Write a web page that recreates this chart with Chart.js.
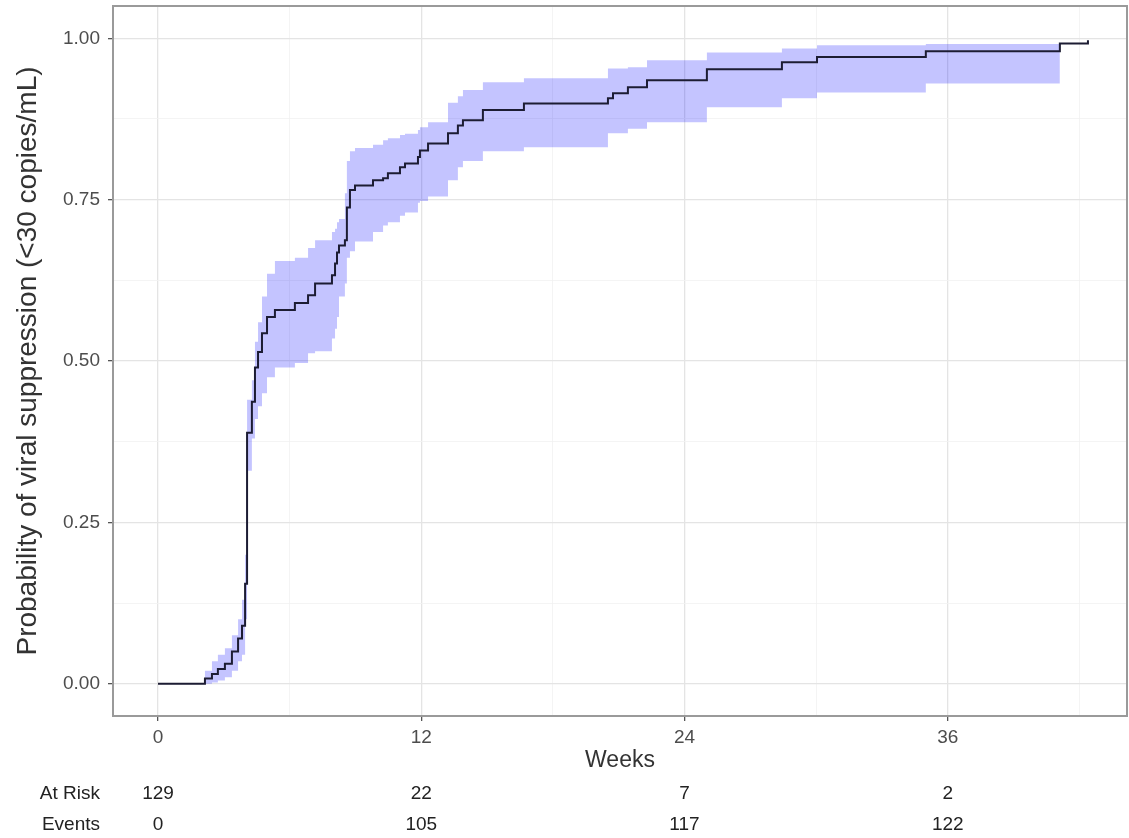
<!DOCTYPE html>
<html>
<head>
<meta charset="utf-8">
<script src="https://cdn.jsdelivr.net/npm/chart.js@4.4.0/dist/chart.umd.min.js"></script>
<style>
  html, body { margin: 0; padding: 0; background: #fff; }
  canvas { display: block; }
</style>
</head>
<body>
<canvas id="kmChart" width="1129" height="838"></canvas>
<script>
// Kaplan-Meier estimate of time to suppression, with 95% band
const weeks = [0, 2.14, 2.46, 2.73, 3.05, 3.37, 3.65, 3.83, 3.97, 4.06,
  4.28, 4.42, 4.56, 4.74, 4.97, 5.33, 6.24, 6.84, 7.16, 7.93,
  8.07, 8.16, 8.25, 8.52, 8.61, 8.75, 8.98, 9.80, 10.26, 10.48,
  11.03, 11.26, 11.85, 11.94, 12.31, 13.22, 13.67, 13.90, 14.81, 16.68,
  20.51, 20.74, 21.42, 22.29, 25.02, 28.44, 30.04, 35.00, 41.11, 42.39];
const estimate = [0, 0.008, 0.015, 0.023, 0.031, 0.05, 0.07, 0.09, 0.155, 0.389,
  0.437, 0.49, 0.514, 0.543, 0.568, 0.579, 0.59, 0.602, 0.62, 0.633,
  0.651, 0.668, 0.679, 0.687, 0.738, 0.765, 0.772, 0.78, 0.783, 0.791,
  0.8, 0.806, 0.816, 0.826, 0.837, 0.853, 0.865, 0.873, 0.889, 0.899,
  0.907, 0.915, 0.924, 0.935, 0.952, 0.963, 0.971, 0.98, 0.992, 0.997];
const lowerCI = [0, 0, 0.002, 0.005, 0.01, 0.02, 0.035, 0.045, 0.1, 0.33,
  0.38, 0.41, 0.43, 0.45, 0.475, 0.49, 0.497, 0.512, 0.515, 0.535,
  0.55, 0.568, 0.6, 0.62, 0.66, 0.67, 0.685, 0.7, 0.71, 0.715,
  0.725, 0.73, 0.745, 0.748, 0.755, 0.78, 0.8, 0.81, 0.825, 0.831,
  0.853, 0.853, 0.86, 0.87, 0.893, 0.907, 0.916, 0.93, 0.93, null];
const upperCI = [0, 0.02, 0.035, 0.045, 0.055, 0.075, 0.1, 0.13, 0.2, 0.44,
  0.47, 0.53, 0.56, 0.6, 0.635, 0.655, 0.66, 0.675, 0.687, 0.7,
  0.705, 0.715, 0.72, 0.76, 0.81, 0.825, 0.83, 0.835, 0.842, 0.845,
  0.85, 0.852, 0.858, 0.862, 0.87, 0.9, 0.91, 0.92, 0.932, 0.938,
  0.953, 0.953, 0.955, 0.966, 0.978, 0.984, 0.989, 0.991, 0.991, null];

// risk table under the x axis
const riskWeeks = [0, 12, 24, 36];
const atRisk = [129, 22, 7, 2];
const events = [0, 105, 117, 122];

const xTicks = [0, 6, 12, 18, 24, 30, 36, 42];
const yTicks = [0, 0.125, 0.25, 0.375, 0.5, 0.625, 0.75, 0.875, 1];

const FONT = "'Liberation Sans', Arial, sans-serif";

const toPoints = arr => weeks.map((w, i) => ({ x: w, y: arr[i] }));

const isMajorX = v => v % 12 === 0;
const isMajorY = v => Math.abs(v * 4 - Math.round(v * 4)) < 1e-9;

const panelAndTable = {
  id: 'panelAndTable',
  afterDraw(chart) {
    const { ctx, chartArea: a } = chart;
    const x = chart.scales.x;
    ctx.save();
    ctx.strokeStyle = '#9a9a9a';
    ctx.lineWidth = 2;
    ctx.strokeRect(a.left, a.top, a.right - a.left, a.bottom - a.top);

    ctx.font = '19px ' + FONT;
    ctx.fillStyle = '#222';
    ctx.textBaseline = 'middle';
    ctx.textAlign = 'right';
    ctx.fillText('At Risk', 100, 794);
    ctx.fillText('Events', 100, 825);
    ctx.textAlign = 'center';
    riskWeeks.forEach((w, i) => {
      const px = x.getPixelForValue(w);
      ctx.fillText(String(atRisk[i]), px, 794);
      ctx.fillText(String(events[i]), px, 825);
    });
    ctx.restore();
  }
};

new Chart(document.getElementById('kmChart'), {
  type: 'line',
  data: {
    datasets: [
      {
        label: 'estimate',
        data: toPoints(estimate),
        stepped: true,
        borderColor: '#1c1c33',
        borderWidth: 2,
        pointRadius: 0,
        fill: false
      },
      {
        label: 'upper',
        data: toPoints(upperCI),
        stepped: true,
        borderWidth: 0,
        borderColor: 'rgba(0,0,0,0)',
        pointRadius: 0,
        backgroundColor: 'rgba(0,0,255,0.23)',
        fill: '+1'
      },
      {
        label: 'lower',
        data: toPoints(lowerCI),
        stepped: true,
        borderWidth: 0,
        borderColor: 'rgba(0,0,0,0)',
        pointRadius: 0,
        fill: false
      }
    ]
  },
  options: {
    responsive: false,
    animation: false,
    layout: { padding: { top: 6, right: 2, bottom: 0, left: 0 } },
    plugins: {
      legend: { display: false },
      tooltip: { enabled: false }
    },
    scales: {
      x: {
        type: 'linear',
        min: -2.051,
        max: 44.17,
        afterBuildTicks: s => { s.ticks = xTicks.map(v => ({ value: v })); },
        afterFit: s => {
          s.height = 122;
          s.paddingLeft = 0;
          s.paddingRight = 0;
        },
        border: { display: false },
        grid: {
          color: c => isMajorX(c.tick.value) ? '#e4e4e4' : '#f1f1f1',
          lineWidth: c => isMajorX(c.tick.value) ? 1.3 : 0.8,
          tickColor: c => isMajorX(c.tick.value) ? '#555' : 'rgba(0,0,0,0)',
          tickLength: 5
        },
        ticks: {
          autoSkip: false,
          maxRotation: 0,
          padding: 5,
          color: '#4d4d4d',
          font: { family: FONT, size: 19 },
          callback: v => isMajorX(v) ? String(v) : ''
        },
        title: {
          display: true,
          text: 'Weeks',
          color: '#333',
          font: { family: FONT, size: 23 },
          padding: { top: 0, bottom: 64 }
        }
      },
      y: {
        type: 'linear',
        min: -0.05,
        max: 1.05,
        afterBuildTicks: s => { s.ticks = yTicks.map(v => ({ value: v })); },
        afterFit: s => {
          s.width = 113;
          s.paddingTop = 0;
          s.paddingBottom = 0;
        },
        border: { display: false },
        grid: {
          color: c => isMajorY(c.tick.value) ? '#e4e4e4' : '#f1f1f1',
          lineWidth: c => isMajorY(c.tick.value) ? 1.3 : 0.8,
          tickColor: c => isMajorY(c.tick.value) ? '#555' : 'rgba(0,0,0,0)',
          tickLength: 5
        },
        ticks: {
          autoSkip: false,
          padding: 8,
          color: '#4d4d4d',
          font: { family: FONT, size: 19 },
          callback: v => isMajorY(v) ? v.toFixed(2) : ''
        },
        title: {
          display: true,
          text: 'Probability of viral suppression (<30 copies/mL)',
          color: '#333',
          font: { family: FONT, size: 28 },
          padding: { top: 11, bottom: 0 }
        }
      }
    }
  },
  plugins: [panelAndTable]
});
</script>
</body>
</html>
